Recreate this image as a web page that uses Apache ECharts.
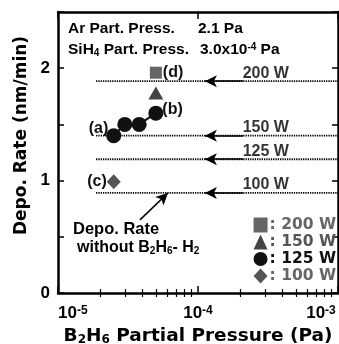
<!DOCTYPE html>
<html><head><meta charset="utf-8">
<script src="https://cdn.jsdelivr.net/npm/echarts@6/dist/echarts.min.js"></script>
<style>html,body{margin:0;padding:0;background:#fff}#c{width:339px;height:344px}</style>
</head><body><div id="c"></div>
<script>
// ---- data ----
const seriesNames = ['200 W', '150 W', '125 W', '100 W'];
const pressure200 = [5.0e-5];
const rate200 = [1.96];
const pressure150 = [5.0e-5];
const rate150 = [1.78];
const pressure125 = [2.5e-5, 3.0e-5, 3.8e-5, 5.0e-5];
const rate125 = [1.40, 1.50, 1.50, 1.60];
const pressure100 = [2.5e-5];
const rate100 = [0.99];
// deposition rate without B2H6-H2 (reference lines) per power
const refPowers = ['200 W', '150 W', '125 W', '100 W'];
const refRates = [1.885, 1.40, 1.19, 0.89];
const refPressureRange = [1.87e-5, 1e-3];
const arrowTailX = 2.1e-4;
const arrowTipX = 1.12e-4;
const refLabelX = 3.05e-4;
const noteArrowFrom = [3.85e-5, 0.65];
const noteArrowTo = [6.1e-5, 0.89];
const xMinorTicks = [2e-5,3e-5,4e-5,5e-5,6e-5,7e-5,8e-5,9e-5,2e-4,3e-4,4e-4,5e-4,6e-4,7e-4,8e-4,9e-4];
const yRange = [0, 2.5];
const yTickStep = 0.5;

const LIB = 'Liberation Sans, Arial, sans-serif';
const DJV = 'DejaVu Sans, sans-serif';

const chart = echarts.init(document.getElementById('c'), null, {renderer: 'canvas'});

const xy = (xs, ys) => xs.map((x, i) => [x, ys[i]]);
const lblStyle = {fontFamily: LIB, fontWeight: 'bold', fontSize: 16, color: '#111'};
const frameLine = {show: true, onZero: false, lineStyle: {color: '#000', width: 2.5}};
const minorLog = xMinorTicks.map(v => Math.log10(v));

const xBase = {
  type: 'log', logBase: 10, min: 1e-5, max: 1e-3,
  splitLine: {show: false}, minorTick: {show: false}
};
const minorAxis = pos => ({
  type: 'value', min: -5, max: -3, position: pos,
  axisLine: {show: false}, splitLine: {show: false}, axisLabel: {show: false},
  axisTick: {show: true, inside: true, length: 4, customValues: minorLog, lineStyle: {color: '#000', width: 1.2}}
});

const series = [];

refRates.forEach((r, i) => {
  const s = {
    type: 'line', name: 'ref' + i, silent: true, symbol: 'none',
    data: [[refPressureRange[0], r], [refPressureRange[1], r]],
    lineStyle: {color: '#000', width: 1.8, type: [1.3, 1.0]},
    z: 2,
    markLine: {
      silent: true, animation: false,
      symbol: ['none', 'arrow'], symbolSize: [9, 12],
      label: {show: false},
      lineStyle: {color: '#000', width: 1.6, type: 'solid'},
      data: [[{coord: [arrowTailX, r]}, {coord: [arrowTipX, r]}]]
    }
  };
  if (i === 3) s.markLine.data.push([{coord: noteArrowFrom}, {coord: noteArrowTo}]);
  series.push(s);
});

series.push({
  type: 'scatter', name: 'refLabels', silent: true, symbolSize: 0,
  data: refRates.map((r, i) => [refLabelX, r, refPowers[i]]),
  label: {show: true, position: 'top', distance: 0,
    formatter: p => p.data[2],
    fontFamily: LIB, fontWeight: 'bold', fontSize: 16, color: '#000'},
  z: 5
});

series.push({
  type: 'scatter', name: seriesNames[0], symbol: 'rect', symbolSize: 12,
  itemStyle: {color: '#666', opacity: 1},
  data: xy(pressure200, rate200).map(d => ({value: d,
    label: {show: true, position: 'right', distance: 1, formatter: '(d)', ...lblStyle}})),
  z: 6
});
series.push({
  type: 'scatter', name: seriesNames[1], symbol: 'triangle', symbolSize: [15, 13],
  itemStyle: {color: '#444', opacity: 1},
  data: xy(pressure150, rate150), z: 6
});
series.push({
  type: 'line', name: seriesNames[2], symbol: 'circle', symbolSize: 15,
  showAllSymbol: true,
  itemStyle: {color: '#111', opacity: 1},
  lineStyle: {color: '#111', width: 2},
  data: xy(pressure125, rate125).map((d, i) => {
    const o = {value: d};
    if (i === 0) o.label = {show: true, position: 'left', distance: -2, offset: [0, -7], formatter: '(a)', ...lblStyle};
    if (i === pressure125.length - 1) o.label = {show: true, position: 'right', distance: -1, offset: [0, -4], formatter: '(b)', ...lblStyle};
    return o;
  }),
  z: 6
});
series.push({
  type: 'scatter', name: seriesNames[3], symbol: 'diamond', symbolSize: [14, 15],
  itemStyle: {color: '#555', opacity: 1},
  data: xy(pressure100, rate100).map(d => ({value: d,
    label: {show: true, position: 'left', distance: 0, formatter: '(c)', ...lblStyle}})),
  z: 6
});

const legendColors = ['#666', '#555', '#111', '#666'];
const legendIcons = ['rect', 'triangle', 'circle', 'diamond'];

const option = {
  animation: false,
  backgroundColor: '#fff',
  grid: {left: 58, right: 1, top: 12, bottom: 51, containLabel: false, outerBoundsMode: 'none'},
  legend: {
    orient: 'vertical', right: 3, top: 217, itemGap: 1,
    itemWidth: 14, itemHeight: 15, padding: 0, selectedMode: false,
    formatter: ': {name}',
    textStyle: {fontFamily: DJV, fontWeight: 'bold', fontSize: 15.5, lineHeight: 15, padding: [0, 0, 0, -3]},
    data: seriesNames.map((n, i) => ({name: n, icon: legendIcons[i], textStyle: {color: legendColors[i]}}))
  },
  xAxis: [
    Object.assign({}, xBase, {
      position: 'bottom',
      axisLine: frameLine,
      axisTick: {show: true, inside: true, length: 7, lineStyle: {color: '#000', width: 1.5}},
      axisLabel: {
        show: true, margin: 12, alignMinLabel: 'left',
        formatter: v => {
          const e = Math.round(Math.log10(v));
          return '{b|10}{s|' + e + '}' + (e === -3 ? '{pad|}' : '');
        },
        rich: {
          b: {fontFamily: LIB, fontWeight: 'bold', fontSize: 17, color: '#000'},
          s: {fontFamily: LIB, fontWeight: 'bold', fontSize: 12, color: '#000', verticalAlign: 'top'},
          pad: {width: 34, fontSize: 12}
        }
      },
      name: '{b|B}{s|2}{b|H}{s|6}{b| Partial Pressure (Pa)}',
      nameLocation: 'middle', nameGap: 34,
      nameTextStyle: {
        rich: {
          b: {fontFamily: DJV, fontWeight: 'bold', fontSize: 18.5, color: '#000'},
          s: {fontFamily: DJV, fontWeight: 'bold', fontSize: 12, color: '#000', verticalAlign: 'bottom'}
        }
      }
    }),
    minorAxis('bottom'),
    Object.assign({}, xBase, {
      position: 'top',
      axisLine: frameLine,
      axisTick: {show: true, inside: true, length: 7, lineStyle: {color: '#000', width: 1.5}},
      axisLabel: {show: false}
    }),
    minorAxis('top')
  ],
  yAxis: [
    {
      type: 'value', min: yRange[0], max: yRange[1], interval: yTickStep, position: 'left',
      axisLine: frameLine, splitLine: {show: false},
      axisTick: {show: true, inside: true, length: 6, lineStyle: {color: '#000', width: 1.5}},
      axisLabel: {show: true, margin: 8, fontFamily: LIB, fontWeight: 'bold', fontSize: 17, color: '#000',
        formatter: v => (Math.abs(v - Math.round(v)) < 1e-9 && v < yRange[1]) ? String(Math.round(v)) : ''},
      name: 'Depo. Rate (nm/min)', nameLocation: 'middle', nameGap: 27,
      nameTextStyle: {fontFamily: DJV, fontWeight: 'bold', fontSize: 17, color: '#000', padding: [0, 0, 0, 34]}
    },
    {
      type: 'value', min: yRange[0], max: yRange[1], interval: yTickStep, position: 'right',
      axisLine: frameLine, splitLine: {show: false},
      axisTick: {show: true, inside: true, length: 6, lineStyle: {color: '#000', width: 1.5}},
      axisLabel: {show: false}
    }
  ],
  graphic: [
    {type: 'text', x: 68, y: 29, silent: true,
      style: {text: 'Ar Part. Press.', fill: '#000', font: 'bold 15.5px ' + LIB, verticalAlign: 'middle', textVerticalAlign: 'middle'}},
    {type: 'text', x: 198, y: 29, silent: true,
      style: {text: '2.1 Pa', fill: '#000', font: 'bold 15.5px ' + LIB, verticalAlign: 'middle', textVerticalAlign: 'middle'}},
    {type: 'text', x: 68, y: 50, silent: true,
      style: {text: '{n|SiH}{s|4}{n| Part. Press.}', fill: '#000', verticalAlign: 'middle', textVerticalAlign: 'middle',
        rich: {n: {font: 'bold 15.5px ' + LIB, fill: '#000'}, s: {font: 'bold 10px ' + LIB, fill: '#000', verticalAlign: 'bottom'}}}},
    {type: 'text', x: 200, y: 50, silent: true,
      style: {text: '{n|3.0x10}{p|-4}{n| Pa}', fill: '#000', verticalAlign: 'middle', textVerticalAlign: 'middle',
        rich: {n: {font: 'bold 15.5px ' + LIB, fill: '#000'}, p: {font: 'bold 10px ' + LIB, fill: '#000', verticalAlign: 'top'}}}},
    {type: 'text', x: 73, y: 229, silent: true,
      style: {text: 'Depo. Rate', fill: '#000', font: 'bold 16.5px ' + LIB, verticalAlign: 'middle', textVerticalAlign: 'middle'}},
    {type: 'text', x: 77, y: 248, silent: true,
      style: {text: '{n|without B}{s|2}{n|H}{s|6}{n|- H}{s|2}', fill: '#000', verticalAlign: 'middle', textVerticalAlign: 'middle',
        rich: {n: {font: 'bold 16px ' + LIB, fill: '#000'}, s: {font: 'bold 10px ' + LIB, fill: '#000', verticalAlign: 'bottom'}}}}
  ],
  series: series
};
chart.setOption(option);
</script></body></html>
